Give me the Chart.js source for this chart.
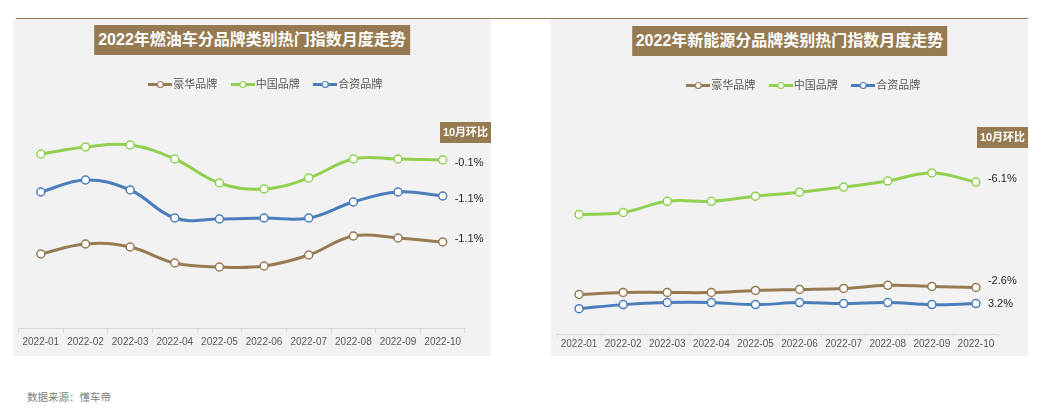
<!DOCTYPE html>
<html>
<head>
<meta charset="utf-8">
<script src="https://cdn.jsdelivr.net/npm/chart.js@4"></script>
<style>
  body { margin: 0; width: 1044px; height: 409px; background: #fff; position: relative; overflow: hidden;
         font-family: 'Liberation Sans', 'Noto Sans CJK SC', sans-serif; }
  .topline { position: absolute; left: 16px; top: 18px; width: 1012px; height: 1px; background: #967a52; }
  .panel { position: absolute; top: 19px; height: 337px; background: #f2f2f2; }
  .panel canvas { position: absolute; left: 0; top: 0; }
  .title { position: absolute; left: 50%; transform: translateX(-50%); height: 30px; line-height: 30px;
           padding: 0 4px; background: #967a52; color: #fff; font-weight: bold; font-size: 16px;
           white-space: nowrap; z-index: 2; }
  .source { position: absolute; left: 27px; top: 389px; font-size: 10.5px; color: #808080; }
</style>
</head>
<body>
<div class="topline"></div>
<div class="panel" style="left:13px;width:478px">
  <div class="title" style="top:6px">2022年燃油车分品牌类别热门指数月度走势</div>
  <div style="position:absolute;left:0;top:0;width:478px;height:337px"><canvas id="fuelChart"></canvas></div>
</div>
<div class="panel" style="left:551px;width:477px">
  <div class="title" style="top:7px">2022年新能源分品牌类别热门指数月度走势</div>
  <div style="position:absolute;left:0;top:0;width:477px;height:337px"><canvas id="nevChart"></canvas></div>
</div>
<div class="source">数据来源：懂车帝</div>

<script>
// 数据
const months = ['2022-01', '2022-02', '2022-03', '2022-04', '2022-05', '2022-06', '2022-07', '2022-08', '2022-09', '2022-10'];
const seriesNames = ['豪华品牌', '中国品牌', '合资品牌'];

// 燃油车
const fuelLuxury = [74, 84, 81, 65, 61, 62, 73, 92, 90, 86];
const fuelChina = [174, 181, 183, 169, 145, 139, 150, 169, 169, 168];
const fuelJV = [136, 148, 138, 110, 109, 110, 110, 126, 136, 132];
const fuelMoM = ['-1.1%', '-0.1%', '-1.1%'];

// 新能源
const nevLuxury = [39, 41, 41, 41, 43, 44, 45, 48, 47, 46];
const nevChina = [118, 120, 131, 131, 136, 140, 145, 151, 159, 150];
const nevJV = [25, 29, 31, 31, 29, 31, 30, 31, 29, 30];
const nevMoM = ['-2.6%', '-6.1%', '3.2%'];

const colors = ['#967a52', '#92d050', '#4a7ebb'];
const BROWN = '#967a52';
const FONT = "'Liberation Sans', 'Noto Sans CJK SC', sans-serif";

// 图例里的 —o— 图标
function legendIcon(color) {
    const c = document.createElement('canvas');
    c.width = 24;
    c.height = 9;
    const ctx = c.getContext('2d');
    ctx.strokeStyle = color;
    ctx.lineWidth = 3;
    ctx.beginPath();
    ctx.moveTo(0, 4.5);
    ctx.lineTo(24, 4.5);
    ctx.stroke();
    ctx.beginPath();
    ctx.arc(12, 4.5, 3, 0, Math.PI * 2);
    ctx.fillStyle = '#fff';
    ctx.fill();
    ctx.lineWidth = 1.2;
    ctx.stroke();
    return c;
}

// 右侧 “10月环比” 标签和百分比
const momPlugin = {
    id: 'momLabels',
    afterLayout(chart, args, opts) {
        chart.legend.left += opts.legendShift;
        chart.legend.right += opts.legendShift;
    },
    afterDatasetsDraw(chart, args, opts) {
        const ctx = chart.ctx;
        ctx.save();
        // 标题框
        const bw = 51, bh = 21;
        const bx = chart.width - bw;
        ctx.fillStyle = BROWN;
        ctx.fillRect(bx, opts.boxTop, bw, bh);
        ctx.fillStyle = '#fff';
        ctx.font = 'bold 11px ' + FONT;
        ctx.textAlign = 'center';
        ctx.textBaseline = 'middle';
        ctx.fillText('10月环比', bx + bw / 2, opts.boxTop + bh / 2 + 0.5);

        ctx.font = '11px ' + FONT;
        ctx.fillStyle = '#262626';
        ctx.textAlign = 'left';
        chart.data.datasets.forEach((ds, i) => {
            const pts = chart.getDatasetMeta(i).data;
            const last = pts[pts.length - 1];
            ctx.fillText(opts.labels[i], last.x + opts.dx[i], last.y + opts.dy[i]);
        });
        ctx.restore();
    }
};

function criarGrafico(id, series, mom, cfg) {
    return new Chart(document.getElementById(id), {
        type: 'line',
        data: {
            labels: months,
            datasets: series.map((data, i) => ({
                label: seriesNames[i],
                data: data,
                borderColor: colors[i],
                backgroundColor: colors[i],
                borderWidth: 3,
                tension: 0.4,
                pointStyle: 'circle',
                pointRadius: 4,
                pointBorderWidth: 1.5,
                pointBackgroundColor: '#fff',
                pointBorderColor: colors[i]
            }))
        },
        options: {
            responsive: true,
            maintainAspectRatio: false,
            animation: false,
            layout: { padding: cfg.padding },
            scales: {
                x: {
                    offset: true,
                    grid: {
                        display: true,
                        offset: true,
                        drawOnChartArea: false,
                        drawTicks: true,
                        tickLength: cfg.tickLength,
                        color: '#d9d9d9'
                    },
                    border: { color: '#d9d9d9', width: 1 },
                    ticks: {
                        color: '#595959',
                        font: { family: FONT, size: 10 },
                        padding: cfg.tickPadding,
                        maxRotation: 0,
                        autoSkip: false
                    }
                },
                y: { display: false, min: 0, max: cfg.yMax }
            },
            plugins: {
                tooltip: { enabled: false },
                legend: {
                    position: 'top',
                    labels: {
                        usePointStyle: true,
                        pointStyleWidth: 15,
                        padding: 18,
                        color: '#595959',
                        font: { family: FONT, size: 11 },
                        generateLabels: (chart) => chart.data.datasets.map((ds, i) => ({
                            text: ds.label,
                            pointStyle: legendIcon(colors[i]),
                            fontColor: '#595959',
                            datasetIndex: i,
                            hidden: false,
                            lineWidth: 0
                        }))
                    }
                },
                momLabels: {
                    legendShift: cfg.legendShift,
                    boxTop: cfg.boxTop,
                    labels: mom,
                    dx: [12, 12, 12],
                    dy: cfg.dy
                }
            }
        },
        plugins: [momPlugin]
    });
}

document.addEventListener('DOMContentLoaded', () => {
    criarGrafico('fuelChart', [fuelLuxury, fuelChina, fuelJV], fuelMoM, {
        padding: { top: 42, left: 5, right: 26, bottom: 5 },
        tickLength: 5,
        tickPadding: 3,
        yMax: 228,
        legendShift: 26,
        boxTop: 103,
        dy: [-3, 3, 3]
    });
    criarGrafico('nevChart', [nevLuxury, nevChina, nevJV], nevMoM, {
        padding: { top: 43, left: 6, right: 30, bottom: 5 },
        tickLength: 3,
        tickPadding: 1,
        yMax: 230,
        legendShift: 28,
        boxTop: 108,
        dy: [-6, -3, 0]
    });
});
</script>
</body>
</html>
